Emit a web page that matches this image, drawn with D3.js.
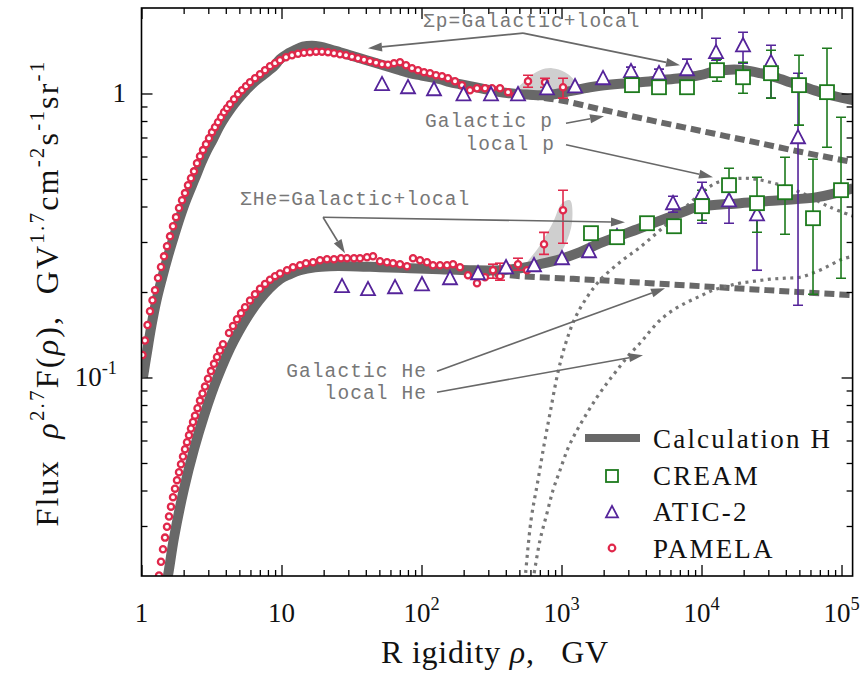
<!DOCTYPE html>
<html><head><meta charset="utf-8">
<script src="https://cdn.jsdelivr.net/npm/d3@7"></script>
<style>body{margin:0;background:#fff} text{white-space:pre}</style>
</head><body>
<svg id="c" width="868" height="673" xmlns="http://www.w3.org/2000/svg"></svg>
<script>
// ---------------- DATA ----------------
const xTickValues = [1, 10, 100, 1e3, 1e4, 1e5];
const xTickLabels = ["1", "10", "10^2", "10^3", "10^4", "10^5"];
const yTickValues = [0.1, 1];
const yTickLabels = ["10^-1", "1"];

// PAMELA protons [R (GV), flux]
const pamelaP = [[1.017,0.120],[1.059,0.135],[1.104,0.153],[1.150,0.171],[1.198,0.187],[1.249,0.203],[1.312,0.224],[1.378,0.245],[1.448,0.267],[1.521,0.290],[1.598,0.314],[1.679,0.341],[1.764,0.367],[1.853,0.395],[1.947,0.421],[2.045,0.446],[2.148,0.475],[2.257,0.503],[2.371,0.532],[2.491,0.568],[2.617,0.601],[2.750,0.632],[2.888,0.663],[3.034,0.696],[3.188,0.731],[3.350,0.761],[3.519,0.792],[3.697,0.825],[3.884,0.859],[4.081,0.888],[4.287,0.917],[4.579,0.955],[4.890,0.994],[5.223,1.027],[5.578,1.061],[5.957,1.096],[6.468,1.132],[7.023,1.169],[7.624,1.208],[8.279,1.248],[8.988,1.279],[9.757,1.310],[10.77,1.342],[11.89,1.364],[13.12,1.381],[14.48,1.392],[15.98,1.398],[17.64,1.404],[19.47,1.404],[21.48,1.398],[23.71,1.387],[26.17,1.375],[28.88,1.364],[31.88,1.348],[35.19,1.331],[38.84,1.315],[42.87,1.299],[47.32,1.284],[52.23,1.268],[57.64,1.263],[63.62,1.279],[70.22,1.289],[77.50,1.258],[85.54,1.228],[94.41,1.208],[104.2,1.189],[115.0,1.179],[126.9,1.160],[140.1,1.151],[154.6,1.132],[173.5,1.105],[194.7,1.070],[222.0,1.027],[249.1,1.044],[284.1,1.044],[318.8,1.044],[363.7,1.044],[415.0,1.011],[465.6,0.978]];
// PAMELA protons with error bars [R, flux, low, high]
const pamelaPErr = [[576.5,1.105,1.052,1.160],[762.4,1.096,1.052,1.132],[1025,1.052,0.963,1.132]];

// PAMELA helium [R, flux]
const pamelaHe = [[1.334,0.0201],[1.378,0.02245],[1.424,0.02485],[1.472,0.0273],[1.521,0.0298],[1.572,0.0324],[1.624,0.0351],[1.679,0.0379],[1.735,0.0406],[1.793,0.0435],[1.853,0.0464],[1.915,0.0495],[1.979,0.0527],[2.045,0.0559],[2.113,0.0592],[2.184,0.0626],[2.257,0.0661],[2.333,0.0697],[2.411,0.0734],[2.512,0.0780],[2.617,0.0829],[2.727,0.0878],[2.842,0.0929],[2.985,0.0990],[3.135,0.1053],[3.295,0.1117],[3.462,0.1181],[3.637,0.1245],[3.820,0.1309],[4.217,0.1434],[4.504,0.1518],[4.810,0.1603],[5.137,0.1685],[5.487,0.1768],[5.957,0.1868],[6.468,0.1965],[7.023,0.2054],[7.624,0.2136],[8.279,0.2210],[8.988,0.2274],[9.757,0.2325],[10.95,0.2386],[12.08,0.2445],[13.56,0.2485],[14.96,0.2526],[16.79,0.2547],[18.84,0.2588],[21.13,0.2609],[23.71,0.2609],[26.61,0.2630],[29.37,0.2630],[32.95,0.2630],[36.37,0.2630],[40.80,0.2652],[45.04,0.2674],[50.53,0.2567],[56.70,0.2547],[62.58,0.2526],[70.22,0.2506],[78.78,0.2465],[86.98,0.2630],[97.57,0.2588],[109.5,0.2547],[120.8,0.2485],[135.6,0.2485],[152.1,0.2485],[167.9,0.2506],[188.4,0.2445],[214.8,0.2292],[249.1,0.2148],[284.1,0.2255],[415.0,0.2425],[567.0,0.2386]];
const pamelaHeErr = [[324.1,0.2386,0.2237,0.2506],[363.7,0.2274,0.2201,0.2526],[489.0,0.2506,0.2386,0.2630],[749.9,0.2947,0.2713,0.3242],[1025,0.3882,0.2971,0.4566]];

// ATIC-2 [R, flux, low, high]
const aticP = [[52.23,1.070],[80.1,1.044],[122.8,1.027],[199.5,0.986],[313.6,0.986],[489.0,0.986],[787.7,1.035],[1249,1.052],[1979,1.123],[3136,1.189,1.141,1.238],[4970,1.169,1.123,1.218],[7877,1.208,1.160,1.321],[12694,1.387,1.310,1.565],[19790,1.467,1.279,1.644],[31360,1.279,0.963,1.479],[48900,0.696,0.1797,1.179]];
const aticHe = [[27.05,0.2080],[41.48,0.2030],[64.68,0.2063],[100.8,0.2113],[159.8,0.2219],[253.3,0.2311],[401.6,0.2425],[636.3,0.2465],[1008,0.2609],[1572,0.2762],[2491,0.3119],[6258,0.4076,0.3820,0.4349],[10080,0.4419,0.3493,0.4872],[15720,0.4175,0.3493,0.4566],[24910,0.3727,0.2386,0.4043]];

// CREAM [R, flux, low, high]
const creamP = [[3188,1.070],[4970,1.052],[7877,1.052],[12900,1.208,1.105,1.321],[19790,1.141,1.002,1.289],[31360,1.179,0.963,1.420],[49710,1.070,0.7735,1.364],[78770,1.011,0.6468,1.443]];
const creamHe = [[1624,0.3222],[2491,0.3119],[4081,0.3493],[6362,0.3409],[10080,0.4011,0.3580,0.4566],[15720,0.4754,0.4209,0.5456],[24910,0.4110,0.3248,0.5071],[39480,0.4492,0.3196,0.5965],[62580,0.3638,0.1965,0.5870],[99180,0.4566,0.2237,0.8252]];

// Calculation H (total) curves
const calcP = [[1.025,0.1003],[1.086,0.1198],[1.179,0.1528],[1.280,0.1872],[1.401,0.2237],[1.546,0.2674],[1.707,0.3144],[1.884,0.3667],[2.079,0.4209],[2.411,0.5030],[2.661,0.5681],[2.937,0.6315],[3.242,0.6907],[3.578,0.7609],[3.948,0.8252],[4.358,0.8875],[4.890,0.9548],[5.578,1.027],[6.362,1.096],[7.499,1.169],[8.842,1.248],[9.757,1.321],[10.95,1.375],[12.69,1.427],[14.24,1.462],[16.52,1.474],[18.84,1.462],[22.20,1.432],[26.17,1.398],[30.85,1.364],[36.37,1.331],[42.87,1.299],[50.53,1.268],[59.57,1.238],[70.22,1.208],[82.78,1.179],[97.57,1.160],[115.0,1.141],[135.6,1.123],[159.8,1.096],[188.4,1.078],[222.0,1.061],[261.7,1.044],[308.5,1.027],[363.7,1.011],[428.7,1.002],[505.3,0.994],[595.7,0.990],[702.2,0.986],[827.8,0.990],[975.7,1.002],[1150,1.019],[1356,1.035],[1598,1.052],[1884,1.065],[2617,1.083],[3637,1.096],[5053,1.114],[7022,1.132],[9756,1.160],[12490,1.198],[15980,1.213],[20450,1.208],[26170,1.179],[33500,1.141],[42870,1.096],[54870,1.052],[70220,1.011],[89880,0.978],[120800,0.947]];
const calcHe = [[1.490,0.0185],[1.546,0.0201],[1.707,0.0273],[2.012,0.0406],[2.371,0.0559],[2.796,0.0734],[3.462,0.0990],[4.579,0.1351],[6.909,0.1868],[9.757,0.2219],[11.50,0.2311],[13.56,0.2386],[17.35,0.2445],[22.20,0.2465],[30.85,0.2465],[50.53,0.2445],[82.78,0.2425],[135.6,0.2405],[222.0,0.2386],[363.7,0.2386],[505.3,0.2425],[702.2,0.2506],[975.7,0.2609],[1356,0.2762],[1884,0.2971],[3637,0.3355],[7022,0.3789],[9288,0.3979],[18840,0.4110],[36370,0.4209],[66830,0.4314],[120800,0.4641]];

// Galactic components (dashed)
const galP = [[222.0,1.061],[363.7,1.011],[595.7,0.978],[975.7,0.947],[1884,0.8805],[4287,0.8055],[9756,0.7396],[22200,0.6793],[50530,0.6238],[120800,0.5729]];
const galHe = [[261.7,0.2349],[505.3,0.2274],[975.7,0.2237],[1884,0.2201],[4287,0.2148],[9756,0.2097],[22200,0.2047],[50530,0.1998],[120800,0.1949]];

// Local components (dotted)
const locP = [[548.8,0.01933],[605.6,0.03145],[679.3,0.04348],[749.9,0.05776],[827.8,0.07486],[944.1,0.1044],[1077,0.1331],[1249,0.1617],[1521,0.1917],[1884,0.2201],[2617,0.2547],[3637,0.2876],[5053,0.3301],[7022,0.3820],[9756,0.4419],[13120,0.4872],[20450,0.5030],[30850,0.4872],[50530,0.4492],[82780,0.3979],[120800,0.3698]];
const locHe = [[625.9,0.0193],[702.2,0.02674],[787.7,0.03328],[869.8,0.04011],[975.7,0.04716],[1113,0.05636],[1290,0.06522],[1521,0.07486],[1793,0.08522],[2113,0.09548],[2491,0.1061],[2985,0.1189],[3637,0.1320],[4287,0.1455],[5053,0.1591],[6258,0.1726],[7877,0.1841],[9756,0.1933],[12080,0.2030],[15210,0.2097],[18840,0.2148],[24110,0.2184],[30850,0.2219],[39480,0.2237],[50530,0.2255],[64680,0.2349],[82780,0.2485],[100800,0.2609],[120800,0.2674]];

// light uncertainty areas
const shadeP = [[465.6,1.002],[576.5,1.132],[702.2,1.208],[855.5,1.228],[1059,1.189],[1249,1.096],[1150,1.027],[975.7,0.994]];
const shadeHe = [[548.8,0.2425],[702.2,0.2923],[869.8,0.3521],[1008,0.4110],[1150,0.4209],[1189,0.3521],[1059,0.2923],[869.8,0.2547],[702.2,0.2425]];

// annotations: text [label, R, flux, anchor]
const annTexts = [["\u03A3p=Galactic+local",102.5,1.712,"start"],["Galactic p",869.8,0.7609,"end"],["local p",898.9,0.6315,"end"],["\u03A3He=Galactic+local",5.053,0.4043,"start"],["Galactic He",109.5,0.1002,"end"],["local He",109.5,0.0840,"end"]];
// arrows [R0, F0, R1, F1]
const annArrows = [[530.9,1.631,41.48,1.443],[530.9,1.631,7022,1.258],[1077,0.786,2012,0.832],[1077,0.660,12080,0.5071],[19.79,0.3667,28.41,0.2740],[19.79,0.3667,2841,0.3521],[129.0,0.1052,5487,0.2063],[129.0,0.08876,3820,0.1198]];

const legendLabels = ["Calculation H", "CREAM", "ATIC-2", "PAMELA"];

// ---------------- DRAW ----------------
const L = 141.5, Rr = 852.6, T = 8, B = 576;
const x = d3.scaleLog().domain([1, 1.2e5]).range([L, Rr]);
const y = d3.scaleLog().domain([0.02, 2]).range([B, T]);
const svg = d3.select("#c");
const serif = "'Liberation Serif','Times New Roman',serif";
const mono = "'Liberation Mono','Courier New',monospace";
const GRAY = "#686868", RED = "#e0284b", GREEN = "#1d7a1d", PURPLE = "#55249a";

svg.append("defs").append("clipPath").attr("id","clip").append("rect")
  .attr("x",L).attr("y",T).attr("width",Rr-L).attr("height",B-T);
const plot = svg.append("g").attr("clip-path","url(#clip)");

const line = d3.line().x(d=>x(d[0])).y(d=>y(d[1])).curve(d3.curveCatmullRom.alpha(0.5));
const area = d3.line().x(d=>x(d[0])).y(d=>y(d[1])).curve(d3.curveCatmullRomClosed.alpha(0.5));

plot.append("path").attr("d",area(shadeP)).attr("fill","#cfcfcf");
plot.append("path").attr("d",area(shadeHe)).attr("fill","#cfcfcf");

[galP, galHe].forEach(s=>plot.append("path").attr("d",line(s)).attr("fill","none")
  .attr("stroke",GRAY).attr("stroke-width",6).attr("stroke-dasharray","10,5"));
[locP, locHe].forEach(s=>plot.append("path").attr("d",line(s)).attr("fill","none")
  .attr("stroke","#777").attr("stroke-width",3.2).attr("stroke-dasharray","3,4.5"));
[calcP, calcHe].forEach(s=>plot.append("path").attr("d",line(s)).attr("fill","none")
  .attr("stroke",GRAY).attr("stroke-width",10).attr("stroke-linecap","butt"));

// error bars
function errBars(data, color){
  const g = plot.append("g").attr("stroke",color).attr("stroke-width",1.6);
  data.filter(d=>d.length>3).forEach(d=>{
    g.append("line").attr("x1",x(d[0])).attr("x2",x(d[0])).attr("y1",y(d[2])).attr("y2",y(d[3]));
    [d[2],d[3]].forEach(v=>g.append("line").attr("x1",x(d[0])-5).attr("x2",x(d[0])+5).attr("y1",y(v)).attr("y2",y(v)));
  });
}
errBars(pamelaPErr, RED); errBars(pamelaHeErr, RED);
errBars(aticP, PURPLE); errBars(aticHe, PURPLE);
errBars(creamP, GREEN); errBars(creamHe, GREEN);

function circles(data){
  plot.append("g").selectAll("circle").data(data).join("circle")
    .attr("cx",d=>x(d[0])).attr("cy",d=>y(d[1])).attr("r",3.1)
    .attr("fill","#fff").attr("stroke",RED).attr("stroke-width",2.3);
}
function tri(cx,cy,s){ const h=s*0.95; return `M${cx},${cy-h*0.62}L${cx+s/2},${cy+h*0.38}L${cx-s/2},${cy+h*0.38}Z`; }
function triangles(data){
  plot.append("g").selectAll("path").data(data).join("path")
    .attr("d",d=>tri(x(d[0]),y(d[1]),14)).attr("fill","#fff").attr("stroke",PURPLE).attr("stroke-width",1.8);
}
function squares(data){
  plot.append("g").selectAll("rect").data(data).join("rect")
    .attr("x",d=>x(d[0])-7).attr("y",d=>y(d[1])-7).attr("width",14).attr("height",14)
    .attr("fill","#fff").attr("stroke",GREEN).attr("stroke-width",1.8);
}
circles(pamelaP); circles(pamelaPErr); circles(pamelaHe); circles(pamelaHeErr);
triangles(aticP); triangles(aticHe);
squares(creamP); squares(creamHe);

// annotations
const ann = svg.append("g");
annArrows.forEach(a=>{
  const x0=x(a[0]), y0=y(a[1]), x1=x(a[2]), y1=y(a[3]);
  const ang=Math.atan2(y1-y0,x1-x0), len=14, hw=4.5;
  const bx=x1-len*Math.cos(ang), by=y1-len*Math.sin(ang);
  ann.append("line").attr("x1",x0).attr("y1",y0).attr("x2",bx).attr("y2",by)
    .attr("stroke",GRAY).attr("stroke-width",1.6);
  ann.append("path").attr("d",`M${x1},${y1}L${bx+hw*Math.sin(ang)},${by-hw*Math.cos(ang)}L${bx-hw*Math.sin(ang)},${by+hw*Math.cos(ang)}Z`)
    .attr("fill",GRAY);
});
annTexts.forEach(t=>{
  ann.append("text").attr("x",x(t[1])).attr("y",y(t[2])).attr("text-anchor",t[3])
    .attr("font-family",mono).attr("font-size",19.5).attr("letter-spacing",1.1).attr("fill","#777").text(t[0]);
});

// axes ticks (inward, all four sides)
const xMinor=[], yMinor=[];
for(let d=0; d<=5; d++) for(let m=2;m<=9;m++){const v=m*Math.pow(10,d); if(v<1.2e5) xMinor.push(v);}
for(let d=-2; d<=0; d++) for(let m=2;m<=9;m++){const v=m*Math.pow(10,d); if(v>0.02 && v<2) yMinor.push(v);}
function ax(gen, tr, vals, size){
  const g = svg.append("g").attr("transform",tr)
    .call(gen.tickValues(vals).tickSize(size).tickFormat(""));
  g.select(".domain").remove();
  g.selectAll("line").attr("stroke","#000").attr("stroke-width",1.3);
}
ax(d3.axisBottom(x), `translate(0,${B})`, xTickValues, -11);
ax(d3.axisBottom(x), `translate(0,${B})`, xMinor, -6);
ax(d3.axisTop(x), `translate(0,${T})`, xTickValues, -11);
ax(d3.axisTop(x), `translate(0,${T})`, xMinor, -6);
ax(d3.axisLeft(y), `translate(${L},0)`, yTickValues, -11);
ax(d3.axisLeft(y), `translate(${L},0)`, yMinor, -6);
ax(d3.axisRight(y), `translate(${Rr},0)`, yTickValues, -11);
ax(d3.axisRight(y), `translate(${Rr},0)`, yMinor, -6);
svg.append("rect").attr("x",L).attr("y",T).attr("width",Rr-L).attr("height",B-T)
  .attr("fill","none").attr("stroke","#000").attr("stroke-width",1.6);

function supText(sel, s, fs){
  const parts = s.split("^");
  sel.append("tspan").text(parts[0]);
  if(parts[1]!==undefined) sel.append("tspan").attr("dy",-fs*0.45).attr("font-size",fs*0.68).text(parts[1]);
}
xTickValues.forEach((v,i)=>{
  const t = svg.append("text").attr("x",x(v)).attr("y",622).attr("text-anchor","middle")
    .attr("font-family",serif).attr("font-size",27).attr("fill","#111");
  supText(t, xTickLabels[i], 27);
});
yTickValues.forEach((v,i)=>{
  const t = svg.append("text").attr("x", v===1?126:117).attr("y",y(v)+9).attr("text-anchor","end")
    .attr("font-family",serif).attr("font-size",27).attr("fill","#111");
  supText(t, yTickLabels[i], 27);
});

// axis titles
const xt = svg.append("text").attr("x",495).attr("y",663).attr("text-anchor","middle")
  .attr("font-family",serif).attr("font-size",32).attr("letter-spacing",0.8).attr("fill","#111");
xt.append("tspan").text("R igidity ");
xt.append("tspan").attr("font-style","italic").text("\u03C1");
xt.append("tspan").text(",   GV");

const yt = svg.append("text").attr("transform","translate(58,293) rotate(-90)").attr("text-anchor","middle")
  .attr("font-family",serif).attr("font-size",32).attr("fill","#111").attr("letter-spacing",2.2);
const ySeg = [["Flux  ",0,0],["\u03C1",0,1],["2.7",1,0],["F(",0,0],["\u03C1",0,1],["),  GV",0,0],["1.7",1,0],["cm",0,0],["-2",1,0],["s",0,0],["-1",1,0],["sr",0,0],["-1",1,0]];
let up=false;
ySeg.forEach(s=>{
  const ts = yt.append("tspan").text(s[0]);
  if(s[1] && !up){ ts.attr("dy",-14).attr("font-size",21); up=true; }
  else if(s[1]){ ts.attr("font-size",21); }
  else if(!s[1] && up){ ts.attr("dy",14); up=false; }
  if(s[2]) ts.attr("font-style","italic");
});

// legend
const lg = svg.append("g").attr("font-family",serif).attr("font-size",27).attr("fill","#111");
lg.append("line").attr("x1",585).attr("x2",640).attr("y1",438).attr("y2",438).attr("stroke",GRAY).attr("stroke-width",8);
lg.append("rect").attr("x",606).attr("y",470).attr("width",12).attr("height",12).attr("fill","#fff").attr("stroke",GREEN).attr("stroke-width",1.8);
lg.append("path").attr("d",tri(612,513,12)).attr("fill","#fff").attr("stroke",PURPLE).attr("stroke-width",1.8);
lg.append("circle").attr("cx",612).attr("cy",548).attr("r",3.3).attr("fill","#fff").attr("stroke",RED).attr("stroke-width",2.2);
legendLabels.forEach((s,i)=>lg.append("text").attr("x",653).attr("y",448+i*36.7).attr("letter-spacing",2.2).text(s));
</script>
</body></html>
